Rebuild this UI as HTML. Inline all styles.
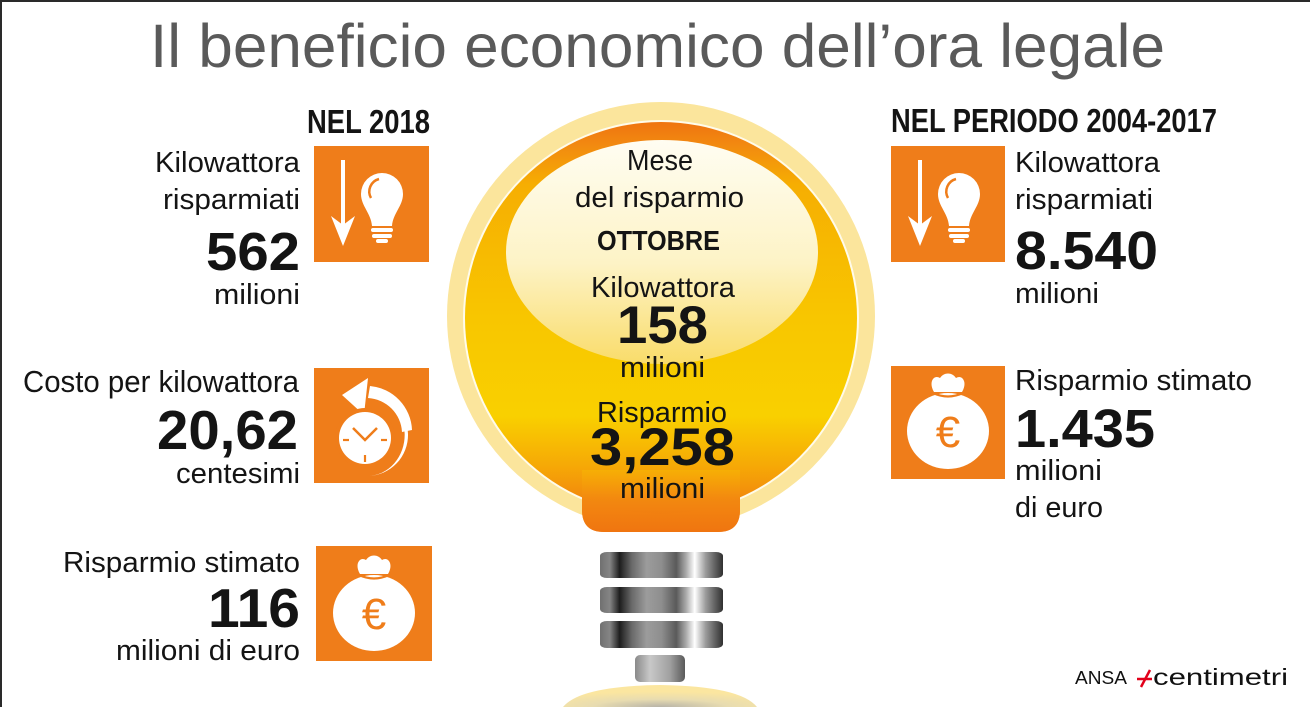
<!DOCTYPE html>
<html><head><meta charset="utf-8"><style>
html,body{margin:0;padding:0;background:#fff;width:1310px;height:707px;overflow:hidden;}
svg{display:block;}
text{font-family:"Liberation Sans",Arial,sans-serif;}
</style></head><body>
<svg width="1310" height="707" viewBox="0 0 1310 707" xmlns="http://www.w3.org/2000/svg" overflow="hidden">
<defs>
  <linearGradient id="sph" x1="0" y1="0" x2="0" y2="1">
    <stop offset="0" stop-color="#ef7410"/>
    <stop offset="0.06" stop-color="#f28a10"/>
    <stop offset="0.16" stop-color="#f6ae02"/>
    <stop offset="0.5" stop-color="#f8c600"/>
    <stop offset="0.75" stop-color="#f9d000"/>
    <stop offset="0.88" stop-color="#f6a806"/>
    <stop offset="1" stop-color="#f07a10"/>
  </linearGradient>
  <linearGradient id="cream" x1="0" y1="0" x2="0" y2="1">
    <stop offset="0" stop-color="#fffdf2"/>
    <stop offset="0.55" stop-color="#fdf3c6"/>
    <stop offset="1" stop-color="#f9dc6a"/>
  </linearGradient>
  <linearGradient id="neck" x1="0" y1="0" x2="0" y2="1">
    <stop offset="0" stop-color="#f7b204"/>
    <stop offset="0.45" stop-color="#f38a10"/>
    <stop offset="1" stop-color="#f07510"/>
  </linearGradient>
  <linearGradient id="band" x1="0" y1="0" x2="1" y2="0">
    <stop offset="0" stop-color="#707070"/>
    <stop offset="0.08" stop-color="#858585"/>
    <stop offset="0.16" stop-color="#1e1e1e"/>
    <stop offset="0.26" stop-color="#6a6a6a"/>
    <stop offset="0.38" stop-color="#9c9c9c"/>
    <stop offset="0.5" stop-color="#8e8e8e"/>
    <stop offset="0.62" stop-color="#5a5a5a"/>
    <stop offset="0.7" stop-color="#aaaaaa"/>
    <stop offset="0.77" stop-color="#ffffff"/>
    <stop offset="0.86" stop-color="#9a9a9a"/>
    <stop offset="1" stop-color="#303030"/>
  </linearGradient>
  <linearGradient id="cap" x1="0" y1="0" x2="1" y2="0">
    <stop offset="0" stop-color="#8a8a8a"/>
    <stop offset="0.3" stop-color="#c8c8c8"/>
    <stop offset="0.7" stop-color="#a0a0a0"/>
    <stop offset="1" stop-color="#5a5a5a"/>
  </linearGradient>
  <radialGradient id="base" cx="0.5" cy="1" r="0.7">
    <stop offset="0" stop-color="#b8b4a8"/>
    <stop offset="0.5" stop-color="#e8dcb0"/>
    <stop offset="1" stop-color="#fbe6a0"/>
  </radialGradient>
  <clipPath id="glowclip"><rect x="0" y="0" width="1310" height="522"/></clipPath>
  <g id="moneybag">
    <path d="M44,28 C38,18 44,10 50,14 C54,8 62,8 66,14 C72,10 78,18 72,28 Z" fill="#fff"/>
    <ellipse cx="58" cy="67" rx="41" ry="38" fill="#fff"/>
    <path d="M43,29 Q58,36 73,29" stroke="#ef7d1a" stroke-width="2.2" fill="none"/>
    <text x="58" y="83" font-size="44" fill="#ef7d1a" text-anchor="middle">€</text>
  </g>
  <g id="bulbicon">
    <line x1="29" y1="14" x2="29" y2="80" stroke="#fff" stroke-width="4"/>
    <polygon points="29,100 17,70 29,79 41,70" fill="#fff"/>
    <path d="M47,48 A21,21 0 1 1 89,48 C89,60 79,67 78,80 L58,80 C57,67 47,60 47,48 Z" fill="#fff"/>
    <path d="M57,52 A13,13 0 0 1 65,33" stroke="#ef7d1a" stroke-width="2.5" fill="none"/>
    <rect x="57" y="82" width="22" height="4" rx="2" fill="#fff"/>
    <rect x="58" y="88" width="20" height="4" rx="2" fill="#fff"/>
    <rect x="62" y="93" width="12" height="4" rx="2" fill="#fff"/>
  </g>
</defs>

<!-- frame lines -->
<rect x="0" y="0" width="1310" height="2" fill="#2a2a2a"/>
<rect x="0" y="0" width="2" height="707" fill="#2a2a2a"/>

<!-- title -->
<text x="150" y="67" font-size="61" fill="#5a5a5a" textLength="1015" lengthAdjust="spacingAndGlyphs">Il beneficio economico dell’ora legale</text>

<!-- bulb -->
<g clip-path="url(#glowclip)">
  <circle cx="661" cy="316" r="214" fill="#fbe59c"/>
</g>
<circle cx="661" cy="318" r="198" fill="#fffbea"/>
<path d="M574,452 C580,470 582,478 582,490 L582,510 Q582,532 604,532 L718,532 Q740,532 740,510 L740,490 C740,478 742,470 748,452 Z" fill="url(#neck)"/>
<circle cx="661" cy="318" r="196" fill="url(#sph)"/>
<path d="M582,470 L582,510 Q582,532 604,532 L718,532 Q740,532 740,510 L740,470 Z" fill="url(#neck)" opacity="0.75"/>
<ellipse cx="662" cy="252" rx="156" ry="112" fill="url(#cream)"/>

<!-- screw -->
<rect x="600" y="552" width="123" height="26" rx="7" ry="4" fill="url(#band)"/>
<rect x="600" y="587" width="123" height="26" rx="7" ry="4" fill="url(#band)"/>
<rect x="600" y="621" width="123" height="27" rx="7" ry="4" fill="url(#band)"/>
<rect x="635" y="655" width="50" height="27" rx="5" fill="url(#cap)"/>
<path d="M563,707 Q580,686 660,685 Q740,686 757,707 Z" fill="url(#base)"/>

<!-- center text -->
<g fill="#141414">
<text x="627" y="170" font-size="29" textLength="66" lengthAdjust="spacingAndGlyphs">Mese</text>
<text x="575" y="207" font-size="29" textLength="169" lengthAdjust="spacingAndGlyphs">del risparmio</text>
<text x="597" y="250" font-size="28" font-weight="bold" textLength="123" lengthAdjust="spacingAndGlyphs">OTTOBRE</text>
<text x="591" y="297" font-size="29" textLength="144" lengthAdjust="spacingAndGlyphs">Kilowattora</text>
<text x="617" y="343" font-size="53" font-weight="bold" textLength="91" lengthAdjust="spacingAndGlyphs">158</text>
<text x="620" y="377" font-size="29" textLength="85" lengthAdjust="spacingAndGlyphs">milioni</text>
<text x="597" y="422" font-size="29" textLength="130" lengthAdjust="spacingAndGlyphs">Risparmio</text>
<text x="590" y="465" font-size="53" font-weight="bold" textLength="145" lengthAdjust="spacingAndGlyphs">3,258</text>
<text x="620" y="498" font-size="29" textLength="85" lengthAdjust="spacingAndGlyphs">milioni</text>
</g>

<!-- left column -->
<g fill="#141414">
<text x="307" y="133" font-size="33" font-weight="bold" textLength="123" lengthAdjust="spacingAndGlyphs">NEL 2018</text>
<text x="155" y="172" font-size="29" textLength="145" lengthAdjust="spacingAndGlyphs">Kilowattora</text>
<text x="163" y="209" font-size="29" textLength="137" lengthAdjust="spacingAndGlyphs">risparmiati</text>
<text x="206" y="270" font-size="54" font-weight="bold" textLength="94" lengthAdjust="spacingAndGlyphs">562</text>
<text x="214" y="304" font-size="29" textLength="86" lengthAdjust="spacingAndGlyphs">milioni</text>
<text x="23" y="392" font-size="31" textLength="276" lengthAdjust="spacingAndGlyphs">Costo per kilowattora</text>
<text x="157" y="449" font-size="55" font-weight="bold" textLength="141" lengthAdjust="spacingAndGlyphs">20,62</text>
<text x="176" y="483" font-size="29" textLength="124" lengthAdjust="spacingAndGlyphs">centesimi</text>
<text x="63" y="572" font-size="29" textLength="237" lengthAdjust="spacingAndGlyphs">Risparmio stimato</text>
<text x="208" y="627" font-size="55" font-weight="bold" textLength="92" lengthAdjust="spacingAndGlyphs">116</text>
<text x="116" y="660" font-size="29" textLength="184" lengthAdjust="spacingAndGlyphs">milioni di euro</text>
</g>

<!-- left icons -->
<rect x="314" y="146" width="115" height="116" fill="#ef7d1a"/>
<use href="#bulbicon" x="314" y="146"/>

<rect x="314" y="368" width="115" height="115" fill="#ef7d1a"/>
<g transform="translate(314,368)">
  <path d="M52,26 A40,40 0 1 1 54,108 A34,37 0 0 0 52,26 Z" fill="#fff"/>
  <path d="M56,18 A46,46 0 0 1 98,62 L88,64 A36,36 0 0 0 54,30 Z" fill="#fff"/>
  <polygon points="28,27 54,10 50,47" fill="#fff"/>
  <circle cx="51" cy="70" r="30" fill="#ef7d1a"/>
  <circle cx="51" cy="70" r="26" fill="#fff"/>
  <polyline points="39,60 51,72 63,60" stroke="#ef7d1a" stroke-width="2.5" fill="none"/>
  <line x1="29" y1="72" x2="35" y2="72" stroke="#ef7d1a" stroke-width="2.2"/>
  <line x1="67" y1="72" x2="73" y2="72" stroke="#ef7d1a" stroke-width="2.2"/>
  <line x1="51" y1="87" x2="51" y2="94" stroke="#ef7d1a" stroke-width="2.2"/>
</g>

<rect x="316" y="546" width="116" height="115" fill="#ef7d1a"/>
<use href="#moneybag" x="316" y="546"/>

<!-- right column -->
<g fill="#141414">
<text x="891" y="132" font-size="33" font-weight="bold" textLength="326" lengthAdjust="spacingAndGlyphs">NEL PERIODO 2004-2017</text>
<text x="1015" y="172" font-size="29" textLength="145" lengthAdjust="spacingAndGlyphs">Kilowattora</text>
<text x="1015" y="209" font-size="29" textLength="138" lengthAdjust="spacingAndGlyphs">risparmiati</text>
<text x="1015" y="269" font-size="54" font-weight="bold" textLength="143" lengthAdjust="spacingAndGlyphs">8.540</text>
<text x="1015" y="303" font-size="29" textLength="84" lengthAdjust="spacingAndGlyphs">milioni</text>
<text x="1015" y="390" font-size="29" textLength="237" lengthAdjust="spacingAndGlyphs">Risparmio stimato</text>
<text x="1015" y="447" font-size="54" font-weight="bold" textLength="140" lengthAdjust="spacingAndGlyphs">1.435</text>
<text x="1015" y="480" font-size="29" textLength="87" lengthAdjust="spacingAndGlyphs">milioni</text>
<text x="1015" y="517" font-size="29" textLength="88" lengthAdjust="spacingAndGlyphs">di euro</text>
</g>

<rect x="891" y="146" width="114" height="116" fill="#ef7d1a"/>
<use href="#bulbicon" x="891" y="146"/>
<rect x="891" y="366" width="114" height="113" fill="#ef7d1a"/>
<use href="#moneybag" x="890" y="364"/>

<!-- logo -->
<text x="1075" y="684" font-size="18" fill="#111" textLength="52" lengthAdjust="spacingAndGlyphs">ANSA</text>
<line x1="1137" y1="679" x2="1152" y2="679" stroke="#e2001a" stroke-width="2.5"/>
<line x1="1141" y1="687" x2="1150" y2="670" stroke="#e2001a" stroke-width="2.5"/>
<text x="1153" y="685" font-size="23" fill="#111" textLength="135" lengthAdjust="spacingAndGlyphs">centimetri</text>
</svg>
</body></html>
